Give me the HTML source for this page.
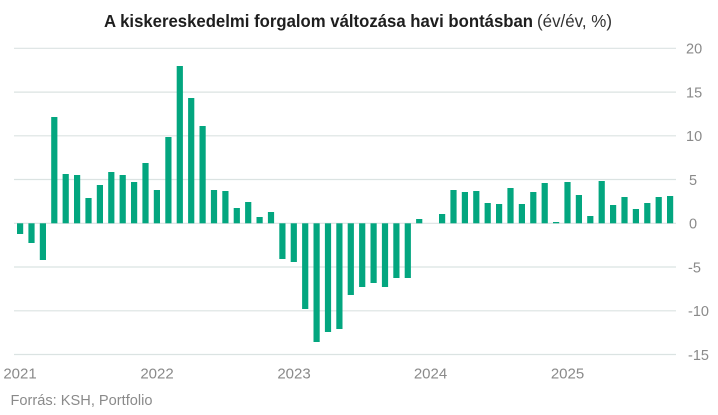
<!DOCTYPE html>
<html><head><meta charset="utf-8"><style>
html,body{margin:0;padding:0;background:#fff;}
svg{display:block;}
</style></head><body>
<svg width="718" height="415" viewBox="0 0 718 415" xmlns="http://www.w3.org/2000/svg" font-family="'Liberation Sans', sans-serif">
<text x="104" y="27" font-size="17.5" font-weight="bold" fill="#1e1e1e" textLength="429" lengthAdjust="spacingAndGlyphs">A kiskereskedelmi forgalom változása havi bontásban</text>
<text x="537" y="27" font-size="17.5" fill="#333" textLength="75" lengthAdjust="spacingAndGlyphs">(év/év, %)</text>
<g stroke="#dbe3e2" stroke-width="1.2">
<line x1="14" x2="676" y1="48.3" y2="48.3"/>
<line x1="14" x2="676" y1="92.1" y2="92.1"/>
<line x1="14" x2="676" y1="135.8" y2="135.8"/>
<line x1="14" x2="676" y1="179.5" y2="179.5"/>
<line x1="14" x2="676" y1="223.3" y2="223.3"/>
<line x1="14" x2="676" y1="267.0" y2="267.0"/>
<line x1="14" x2="676" y1="310.8" y2="310.8"/>
<line x1="14" x2="676" y1="354.5" y2="354.5"/>
</g>
<g font-size="14.5" fill="#8a8a8a">
<text x="686" y="53.6">20</text>
<text x="686" y="97.4">15</text>
<text x="686" y="141.1">10</text>
<text x="689" y="184.8">5</text>
<text x="689" y="228.6">0</text>
<text x="688" y="272.3">-5</text>
<text x="688" y="316.1">-10</text>
<text x="688" y="359.8">-15</text>
</g>
<g font-size="15" fill="#8a8a8a" text-anchor="middle">
<text x="20" y="378.3">2021</text>
<text x="157" y="378.3">2022</text>
<text x="294" y="378.3">2023</text>
<text x="430.5" y="378.3">2024</text>
<text x="567.5" y="378.3">2025</text>
</g>
<text x="10.5" y="405" font-size="15" fill="#8a8a8a" textLength="142" lengthAdjust="spacingAndGlyphs">Forrás: KSH, Portfolio</text>
<g fill="#03a67f">
<rect x="17.0" y="223.3" width="6.2" height="10.7"/>
<rect x="28.4" y="223.3" width="6.2" height="19.7"/>
<rect x="39.8" y="223.3" width="6.2" height="36.7"/>
<rect x="51.2" y="117" width="6.2" height="106.3"/>
<rect x="62.6" y="174" width="6.2" height="49.3"/>
<rect x="74.0" y="175" width="6.2" height="48.3"/>
<rect x="85.4" y="198" width="6.2" height="25.3"/>
<rect x="96.8" y="185" width="6.2" height="38.3"/>
<rect x="108.2" y="172" width="6.2" height="51.3"/>
<rect x="119.6" y="175" width="6.2" height="48.3"/>
<rect x="131.0" y="182" width="6.2" height="41.3"/>
<rect x="142.4" y="163" width="6.2" height="60.3"/>
<rect x="153.8" y="190" width="6.2" height="33.3"/>
<rect x="165.3" y="137" width="6.2" height="86.3"/>
<rect x="176.7" y="66" width="6.2" height="157.3"/>
<rect x="188.1" y="98" width="6.2" height="125.3"/>
<rect x="199.5" y="126" width="6.2" height="97.3"/>
<rect x="210.9" y="190" width="6.2" height="33.3"/>
<rect x="222.3" y="191" width="6.2" height="32.3"/>
<rect x="233.7" y="208" width="6.2" height="15.3"/>
<rect x="245.1" y="202" width="6.2" height="21.3"/>
<rect x="256.5" y="217" width="6.2" height="6.3"/>
<rect x="267.9" y="212" width="6.2" height="11.3"/>
<rect x="279.3" y="223.3" width="6.2" height="35.7"/>
<rect x="290.7" y="223.3" width="6.2" height="38.7"/>
<rect x="302.1" y="223.3" width="6.2" height="85.7"/>
<rect x="313.5" y="223.3" width="6.2" height="118.7"/>
<rect x="324.9" y="223.3" width="6.2" height="108.7"/>
<rect x="336.3" y="223.3" width="6.2" height="105.7"/>
<rect x="347.7" y="223.3" width="6.2" height="71.7"/>
<rect x="359.1" y="223.3" width="6.2" height="63.7"/>
<rect x="370.5" y="223.3" width="6.2" height="59.7"/>
<rect x="381.9" y="223.3" width="6.2" height="63.7"/>
<rect x="393.3" y="223.3" width="6.2" height="54.7"/>
<rect x="404.7" y="223.3" width="6.2" height="54.7"/>
<rect x="416.1" y="219" width="6.2" height="4.3"/>
<rect x="439.0" y="214" width="6.2" height="9.3"/>
<rect x="450.4" y="190" width="6.2" height="33.3"/>
<rect x="461.8" y="192" width="6.2" height="31.3"/>
<rect x="473.2" y="191" width="6.2" height="32.3"/>
<rect x="484.6" y="203" width="6.2" height="20.3"/>
<rect x="496.0" y="204" width="6.2" height="19.3"/>
<rect x="507.4" y="188" width="6.2" height="35.3"/>
<rect x="518.8" y="204" width="6.2" height="19.3"/>
<rect x="530.2" y="192" width="6.2" height="31.3"/>
<rect x="541.6" y="183" width="6.2" height="40.3"/>
<rect x="553.0" y="222" width="6.2" height="1.3"/>
<rect x="564.4" y="182" width="6.2" height="41.3"/>
<rect x="575.8" y="195" width="6.2" height="28.3"/>
<rect x="587.2" y="216" width="6.2" height="7.3"/>
<rect x="598.6" y="181" width="6.2" height="42.3"/>
<rect x="610.0" y="205" width="6.2" height="18.3"/>
<rect x="621.4" y="197" width="6.2" height="26.3"/>
<rect x="632.8" y="209" width="6.2" height="14.3"/>
<rect x="644.2" y="203" width="6.2" height="20.3"/>
<rect x="655.6" y="197" width="6.2" height="26.3"/>
<rect x="667.0" y="196" width="6.2" height="27.3"/>
</g>
</svg>
</body></html>
